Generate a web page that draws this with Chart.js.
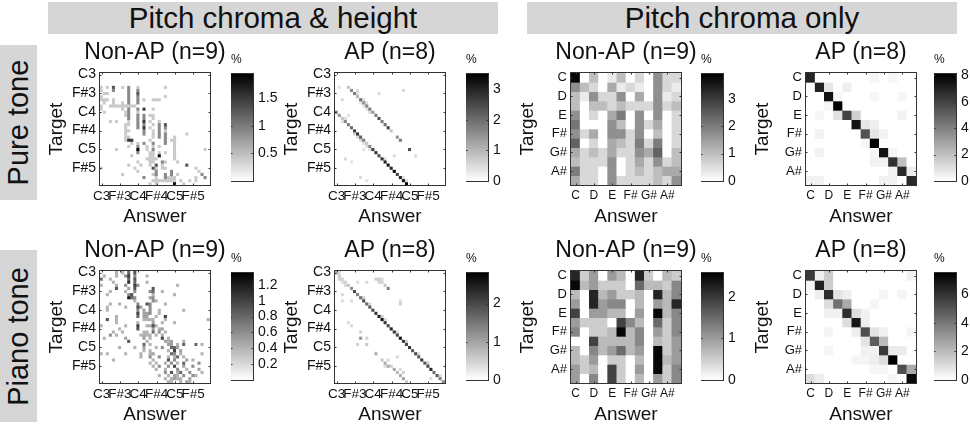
<!DOCTYPE html>
<html>
<head>
<meta charset="utf-8">
<script src="https://cdn.jsdelivr.net/npm/chart.js@4.4.1/dist/chart.umd.min.js"></script>
<style>
  body { margin: 0; width: 970px; height: 425px; position: relative; background: #fff; overflow: hidden;
         font-family: "Liberation Sans", Arial, sans-serif; color: #111; }
  .box { position: absolute; background: #d6d6d6; display: flex; align-items: center; justify-content: center; white-space: nowrap; }
  .vbox span { transform: rotate(-90deg); display: block; }
  canvas { position: absolute; }
</style>
</head>
<body>
<div class="box" style="left:48px;top:2px;width:450px;height:32px;font-size:29.5px">Pitch chroma &amp; height</div>
<div class="box" style="left:527px;top:2px;width:430px;height:32px;font-size:29.5px">Pitch chroma only</div>
<div class="box vbox" style="left:0;top:45px;width:37px;height:155px;font-size:29px"><span>Pure tone</span></div>
<div class="box vbox" style="left:0;top:250px;width:37px;height:172px;font-size:29px"><span>Piano tone</span></div>

<script>
const FONT = '"Liberation Sans", Arial, sans-serif';
Chart.defaults.font.family = FONT;
Chart.defaults.color = '#111';

// note names and tick labels
const heightNotes = ['C3','C#3','D3','D#3','E3','F3','F#3','G3','G#3','A3','A#3','B3',
                     'C4','C#4','D4','D#4','E4','F4','F#4','G4','G#4','A4','A#4','B4',
                     'C5','C#5','D5','D#5','E5','F5','F#5','G5','G#5','A5','A#5','B5'];
const heightTicks = ['C3','F#3','C4','F#4','C5','F#5'];
const chromaNotes = ['C','C#','D','D#','E','F','F#','G','G#','A','A#','B'];
const chromaTicks = ['C','D','E','F#','G#','A#'];

// pitch chroma & height, [target, answer, %]
const pureHeightNonAP = [
  [4,0,.4],[4,2,.4],[4,4,1.3],[4,7,.4],[4,9,.9],[4,12,.4],[4,21,.4],
  [5,0,.4],[5,4,.9],[5,9,.9],[5,12,.9],
  [6,1,.4],[6,2,.4],[6,9,.9],[6,12,1.3],
  [7,0,.4],[7,9,.9],[7,12,.9],[7,21,.4],
  [8,0,.4],[8,1,.4],[8,2,.4],[8,4,.4],[8,9,.9],[8,12,.9],[8,14,.4],[8,17,.4],[8,18,.4],[8,19,.4],
  [9,1,.4],[9,4,.4],[9,7,.4],[9,9,.9],[9,12,.9],
  [10,0,.4],[10,3,.4],[10,4,.4],[10,5,.4],[10,6,.4],[10,7,.4],[10,8,.4],[10,9,.4],[10,10,.4],[10,11,.4],
  [11,0,.4],[11,7,.4],[11,9,.9],[11,12,.9],[11,14,1.5],[11,17,.4],
  [12,1,.4],[12,8,.4],[12,9,.9],[12,12,.4],
  [13,8,.4],[13,9,.9],[13,12,.9],[13,14,.9],[13,16,.4],[13,17,.4],
  [14,9,.9],[14,12,.9],[14,14,.9],[14,17,.4],
  [15,3,.4],[15,5,.4],[15,9,.4],[15,12,.9],[15,14,1.5],[15,16,.4],[15,19,.4],
  [16,8,.4],[16,9,.4],[16,12,.9],[16,14,.9],[16,17,.4],[16,19,.9],[16,21,1.3],
  [17,8,.4],[17,12,.9],[17,14,1.5],[17,16,.4],[17,19,.9],[17,21,.9],
  [18,8,.4],[18,9,.4],[18,14,.9],[18,17,.4],[18,19,.9],[18,21,.4],
  [19,8,.4],[19,14,.9],[19,17,.4],[19,19,.9],[19,21,.9],[19,28,.4],
  [20,8,.4],[20,9,.4],[20,17,.4],[20,19,.9],[20,21,.9],[20,24,.4],
  [21,8,.4],[21,9,1.5],[21,10,1.5],[21,16,.4],[21,21,.9],[21,23,.4],[21,24,.4],
  [22,10,.4],[22,12,.4],[22,14,.9],[22,17,.9],[22,21,.9],[22,24,.4],
  [23,9,.4],[23,12,.9],[23,15,.4],[23,17,.4],[23,19,.4],[23,24,.4],
  [24,5,.4],[24,12,1.9],[24,15,.4],[24,17,.9],[24,24,.4],[24,34,.4],
  [25,12,.9],[25,16,.4],[25,17,.4],[25,19,.4],[25,21,.4],[25,24,.4],
  [26,10,.4],[26,16,.4],[26,17,.4],[26,19,1.9],[26,24,.4],
  [27,15,.4],[27,16,.4],[27,17,.4],[27,18,.4],[27,24,.4],
  [28,12,.4],[28,16,.4],[28,17,.4],[28,20,.9],[28,21,.4],[28,25,.4],
  [29,9,.4],[29,13,.4],[29,16,.4],[29,18,1.3],[29,20,.4],[29,28,1.3],
  [30,0,.4],[30,11,.4],[30,17,1.3],[30,18,.4],[30,20,.4],[30,21,.4],[30,31,.4],
  [31,12,.4],[31,18,.9],[31,23,.9],[31,32,.4],
  [32,7,.4],[32,17,.4],[32,18,.9],[32,21,.9],[32,23,.9],[32,25,.4],[32,33,.9],
  [33,14,.9],[33,18,.4],[33,21,.9],[33,22,.4],[33,23,.4],[33,24,.4],[33,31,.4],[33,34,.9],
  [34,17,.4],[34,18,.4],[34,19,.4],[34,20,.4],[34,21,.4],[34,22,.4],[34,23,.4],[34,24,.4],[34,26,.4],[34,29,.4],[34,31,.4],
  [35,16,.4],[35,18,.4],[35,24,1.9],[35,27,.4]
];

const pureHeightAP = [
  [4,4,.8],[5,5,1.6],[6,6,1.8],[7,7,1.0],[8,8,2.0],[9,9,1.5],[10,10,1.6],[11,11,1.8],[12,12,1.4],
  [13,13,1.8],[14,14,2.4],[15,15,1.8],[16,16,2.0],[17,17,2.6],[18,18,.8],[20,20,1.5],[21,21,1.8],[24,24,2.4],
  [12,0,1.8],[13,1,1.5],[14,2,.8],[15,3,1.6],[16,4,1.8],[17,5,2.0],[18,6,2.6],[19,7,2.8],[20,8,2.2],
  [21,9,1.8],[22,10,.8],[23,11,1.6],[24,12,2.6],[25,13,2.8],[26,14,2.4],[27,15,2.8],[28,16,3.0],
  [29,17,3.2],[30,18,3.0],[31,19,3.4],[32,20,2.6],[33,21,3.0],[34,22,3.2],[35,23,3.5],
  [5,7,.5],[6,7,.4],[8,9,.5],[9,10,.5],[10,9,.4],[11,10,.4],[9,8,.4],[12,11,.5],
  [14,3,.5],[15,2,.4],[19,6,.5],[20,7,.5],[21,8,.6],[22,9,.4],[23,10,.5],[24,11,.4],[27,16,.5],[33,22,.4],[34,23,.5],
  [4,1,.4],[8,2,.5],[6,14,.5],[5,22,.5],[13,4,.4],[27,3,.5],[28,5,.4],[33,8,.5],[34,10,.4],[26,19,.5],[26,26,.5],[24,9,.4]
];

const pianoHeightNonAP = [
  [0,5,.4],[0,7,.4],[0,9,.8],[0,11,.9],
  [1,1,.4],[1,5,.4],[1,8,.6],[1,9,1.0],[1,11,.6],[1,15,.4],
  [2,0,.8],[2,3,.4],[2,9,.8],[2,11,.9],
  [3,4,.4],[3,9,1.1],[3,11,.8],[3,15,.4],
  [4,0,.4],[4,5,.4],[4,8,.6],[4,11,1.0],[4,12,.6],[4,25,.4],
  [5,5,.9],[5,9,.5],[5,11,.9],[5,17,.9],
  [6,3,.4],[6,8,.4],[6,11,.6],[6,16,.6],[6,17,.8],[6,20,.4],
  [7,2,.4],[7,9,.6],[7,10,.9],[7,17,.4],[7,24,.4],
  [8,9,1.2],[8,10,.8],[8,11,.6],[8,16,.5],[8,17,.6],
  [9,11,.4],[9,17,.6],[9,18,.4],
  [10,3,.4],[10,6,.4],[10,12,.6],[10,15,.9],[10,16,.6],[10,21,.4],
  [11,2,.4],[11,8,.4],[11,12,.9],[11,13,.5],[11,16,.6],
  [12,2,.4],[12,12,.6],[12,14,.5],[12,16,.6],[12,19,.4],[12,27,.4],
  [13,12,1.0],[13,14,.5],[13,15,.5],[13,16,.6],[13,19,.4],
  [14,5,.4],[14,12,.8],[14,14,.5],[14,15,.5],[14,18,.4],[14,21,1.0],
  [15,2,.9],[15,5,.4],[15,14,.4],[15,15,.4],[15,16,.4],[15,17,.4],[15,21,.4],[15,35,.4],
  [16,5,.4],[16,12,.4],[16,17,.5],[16,20,.4],[16,24,.4],
  [17,0,.4],[17,8,.4],[17,12,1.0],[17,15,.4],[17,16,.4],[17,17,.9],[17,18,.4],
  [18,6,.4],[18,12,.9],[18,17,.5],[18,19,.4],[18,20,.5],
  [19,4,.4],[19,7,.4],[19,14,.4],[19,15,.4],[19,17,.8],[19,19,.6],[19,21,.4],
  [20,3,.6],[20,5,.4],[20,13,.4],[20,14,.4],[20,15,.4],[20,16,.4],[20,18,.4],[20,20,.4],
  [21,1,.4],[21,8,.5],[21,14,.5],[21,16,.4],[21,20,1.0],[21,22,.4],
  [22,9,.9],[22,15,.4],[22,21,.5],[22,22,.4],[22,23,.5],[22,27,.4],
  [23,14,.8],[23,16,.4],[23,22,.5],[23,23,.5],[23,25,.4],[23,27,.8],[23,31,.8],[23,33,.4],
  [24,6,.4],[24,11,.4],[24,14,.5],[24,18,.4],[24,20,.6],[24,23,.8],[24,24,.8],[24,25,.5],
  [25,14,.4],[25,16,.4],[25,22,.4],[25,24,1.0],[25,26,.5],
  [26,0,.4],[26,2,.4],[26,8,.4],[26,13,.4],[26,16,.4],[26,17,.5],[26,23,.8],[26,24,.6],[26,26,.4],[26,33,.4],
  [27,13,.4],[27,16,.6],[27,19,.6],[27,22,.4],[27,24,.4],[27,25,.8],[27,27,.4],
  [28,4,.4],[28,17,.4],[28,22,.9],[28,24,.6],[28,28,.5],[28,30,.4],
  [29,16,.4],[29,18,.4],[29,21,.4],[29,23,.6],[29,25,.4],[29,27,.8],[29,32,.6],
  [30,17,.4],[30,19,.6],[30,22,.6],[30,24,1.0],[30,27,.5],[30,30,.6],
  [31,18,.4],[31,21,.4],[31,25,.6],[31,28,.4],[31,32,.5],
  [32,21,.6],[32,23,.9],[32,25,.4],[32,26,.8],[32,29,.6],[32,33,.4],
  [33,19,.4],[33,22,.4],[33,24,.5],[33,25,.4],[33,27,.6],[33,30,.6],[33,31,.4],
  [34,21,.4],[34,23,.4],[34,24,.5],[34,25,.4],[34,26,.4],[34,29,.5],
  [35,22,.4],[35,23,.4],[35,26,.4],[35,28,.5],[35,29,.4]
];

const pianoHeightAP = [
  [0,0,.8],[1,1,.6],[2,2,.5],[3,3,.5],[4,4,.6],[5,5,1.2],[6,6,2.0],[7,7,1.4],[8,8,1.6],[9,9,2.0],
  [10,10,1.6],[11,11,1.8],[12,12,2.0],[13,13,2.2],[14,14,2.4],[15,15,2.6],[16,16,2.2],[17,17,2.0],
  [18,18,2.4],[19,19,2.2],[20,20,2.0],[21,21,2.6],[22,22,2.2],[23,23,2.0],[24,24,2.2],[25,25,1.8],
  [26,26,2.0],[27,27,1.8],[28,28,2.2],[29,29,1.8],[30,30,2.0],[31,31,2.4],[32,32,1.6],[33,33,1.8],
  [34,34,1.4],[35,35,1.2],
  [0,1,.4],[2,1,.5],[3,2,.4],[4,3,.4],[7,2,.4],[9,2,.4],[9,5,.4],[3,7,.4],[3,10,.4],
  [2,13,.5],[2,14,.5],[2,15,.4],[3,14,.5],[3,15,.5],[4,16,.6],[5,17,1.4],[9,21,.4],[10,21,.5],
  [8,9,.5],[10,11,.4],[14,15,.5],[15,16,.4],[19,20,.4],[22,23,.5],[26,27,.4],[29,30,.5],[33,34,.4],
  [16,4,.4],[17,5,.4],[19,8,.5],[21,8,1.2],[21,10,.5],[23,7,.5],[23,10,.6],[26,13,.9],[28,15,.6],
  [29,16,.9],[30,17,.9],[31,19,1.0],[32,20,.8],[33,21,.9],[34,22,1.0],[35,23,.6],[27,20,.4],[34,31,.4],
  [30,16,.4],[30,18,.5],[28,17,.4],[31,21,.4],[32,22,.5]
];

// pitch chroma only, rows = target C..B, columns = answer C..B (%)
const pureChromaNonAP = [
  [3.8,0,1.0,0,0.3,1.0,0,0.6,0,1.7,0.6,0.6],
  [1.7,1.0,0.6,0,1.3,0.3,0.6,0.3,0,1.7,0.6,0.3],
  [1.0,0.3,1.7,0.6,0.6,1.7,0,1.3,0,1.7,0.3,0.6],
  [1.0,0,1.0,1.0,0.6,1.0,0.6,0.6,0.6,1.7,0.6,1.0],
  [1.7,0,0.6,0,1.3,2.0,0,1.7,0,1.7,0,0.6],
  [2.1,0,0,0,1.7,1.0,0,1.7,0.6,1.3,0,0.6],
  [1.7,0.6,1.3,0,1.7,1.7,0.6,1.7,0,1.0,0,0.6],
  [2.4,0,0.6,0,1.3,1.0,0.6,2.0,0.6,2.0,0,0.6],
  [1.3,0.6,1.0,0.6,1.3,0.6,0.6,1.7,1.3,2.4,0,1.0],
  [1.0,0.6,0.6,0.6,1.7,0,0.6,1.3,0.6,1.7,0.6,1.0],
  [2.0,0.6,0.6,0,1.7,0,0.6,1.0,0.6,1.0,1.3,1.3],
  [1.3,0.6,0.6,0,1.7,0.6,0.6,0.6,0.6,1.0,0.6,1.7]
];
const pureChromaAP = [
  [7.0,0,0,0,0,0,0,0.3,0,0.3,0,0],
  [0,7.0,0.8,0,0.5,0,0,0,0,0,0,0],
  [0,0,7.5,0.3,0,0,0,0.3,0,0,0.3,0],
  [0,0,0.3,8.1,0,0,0,0,0,0,0,0],
  [0,0.3,0,1.0,6.0,1.5,0,0,0,0,0.4,0],
  [0,0,0,0,0,7.5,0.8,0.5,0,0,0,0],
  [0,0.4,0,0,0,0,5.5,0.8,0.4,0,0,0],
  [0,0,0,0,0,0,0.3,8.0,0,0,0,0],
  [0,0.4,0,0,0,0,0,0.3,7.5,0.3,0,0],
  [0,0,0,0,0,0,0,0.4,0.4,6.5,2.0,0],
  [0,0,0,0,0,0,0,0,0,0.4,6.8,0.6],
  [0.4,0.4,0,0,0,0,0,0,0.4,0.4,0,6.8]
];
const pianoChromaNonAP = [
  [2.2,0.5,1.0,0,1.0,0.7,0,2.2,0.5,0,0.7,0.5],
  [2.5,0.7,1.0,0.5,0.5,0.5,0,1.5,0.7,0.7,0.5,1.2],
  [0.7,0,2.2,0.7,1.0,0.5,0.5,0.7,0,2.2,0.7,1.2],
  [1.0,0,2.2,1.0,1.2,1.2,0,0.7,0,1.0,0.7,2.2],
  [1.9,0,1.0,1.0,0.7,0.7,0,1.0,0,2.5,0.7,1.2],
  [1.0,0.5,0.5,0.5,0,1.9,1.2,0.7,0,1.5,0.5,1.2],
  [1.2,0,0.5,0.5,0.7,2.5,0.7,1.2,0,1.0,0.5,1.2],
  [0,0,1.9,0.7,0.7,0.7,0.7,1.2,0,0.7,0.5,1.0],
  [0.7,0,1.2,0.7,1.0,1.5,0.7,1.0,0,2.5,0.5,1.0],
  [0.7,0.5,1.0,0,0.5,0.5,0,0.7,0,2.5,0.7,1.0],
  [1.0,0.5,0.7,0,1.9,0.5,0,1.0,0,2.5,0.5,1.2],
  [1.0,0,1.2,0,1.9,0.5,0,0.7,0,1.0,0.5,1.2]
];
const pianoChromaAP = [
  [5.8,0.5,1.5,0,0,0,0,0,0,0,0,0.4],
  [0.3,6.5,1.5,0,0,0,0,0,0,0,0,0],
  [0,0.5,6.2,0.8,0.5,0,0,0,0.3,0,0.3,0],
  [0,0,1.0,4.2,2.5,0,0,0.3,0,0,0,0],
  [0,0,0.4,0.4,6.2,1.0,0.4,0,0,0,0,0],
  [0,0,0,0,1.0,6.8,0.5,0,0,0,0,0],
  [0,0,0.3,0,0,0.5,5.2,0.8,0.4,0,0,0.3],
  [0,0,0,0,0,0,0.8,4.8,2.0,0,0,0],
  [0,0,0.3,0,0,0,0.4,0.4,5.8,0.6,0.6,0],
  [0,0,0,0,0,0.3,0.3,0.5,1.0,7.5,0,0],
  [0,0,0,0,0,0,0,0.3,0.3,0,5.2,2.5],
  [1.0,0.5,0,0,0,0,0,0,0,0.3,0,7.2]
];

// colour scale limits and colorbar ticks
const limits = { pureHeightNonAP: 1.94, pureHeightAP: 3.5, pureChromaNonAP: 3.9, pureChromaAP: 8.1,
                 pianoHeightNonAP: 1.35, pianoHeightAP: 2.8, pianoChromaNonAP: 2.57, pianoChromaAP: 7.5 };
const cbTicks = { pureHeightNonAP: [0.5, 1, 1.5], pureHeightAP: [0, 1, 2, 3], pureChromaNonAP: [0, 1, 2, 3],
                  pureChromaAP: [0, 2, 4, 6, 8], pianoHeightNonAP: [0.2, 0.4, 0.6, 0.8, 1, 1.2],
                  pianoHeightAP: [0, 1, 2], pianoChromaNonAP: [0, 1, 2], pianoChromaAP: [0, 2, 4, 6] };

function fromCells(n, cells) {
  const m = Array.from({ length: n }, () => Array(n).fill(0));
  cells.forEach(([t, a, v]) => { m[t][a] = v; });
  return m;
}

function shade(v, max) {
  const g = Math.round(255 * (1 - Math.min(v / max, 1)));
  return `rgb(${g},${g},${g})`;
}

// axes box with small inward ticks, matlab style
const frame = {
  id: 'frame',
  afterDraw(chart) {
    const { ctx, chartArea: a, scales } = chart;
    const len = 2;
    const L = Math.round(a.left) - 0.5, T = Math.round(a.top) - 0.5;
    const R = Math.round(a.right) + 0.5, B = Math.round(a.bottom) + 0.5;
    ctx.save();
    ctx.strokeStyle = '#333';
    ctx.lineWidth = 1;
    ctx.strokeRect(L, T, R - L, B - T);
    ctx.beginPath();
    Object.values(scales).forEach(s => {
      if (s.options.display === false || s.options.ticks.display === false) return;
      s.ticks.forEach((t, i) => {
        const p = Math.round(s.getPixelForTick(i)) + 0.5;
        if (s.isHorizontal()) {
          ctx.moveTo(p, B); ctx.lineTo(p, B - len);
          ctx.moveTo(p, T); ctx.lineTo(p, T + len);
        } else {
          ctx.moveTo(L, p); ctx.lineTo(L + len, p);
          ctx.moveTo(R, p); ctx.lineTo(R - len, p);
        }
      });
    });
    ctx.stroke();
    ctx.restore();
  }
};

function makeCanvas(left, top, w, h) {
  const c = document.createElement('canvas');
  c.width = w; c.height = h;
  c.style.left = left + 'px'; c.style.top = top + 'px';
  c.style.width = w + 'px'; c.style.height = h + 'px';
  document.body.appendChild(c);
  return c;
}

// an empty right axis as wide as the left one keeps the title centred on the plot
function heatmap(left, top, title, matrix, max, names, ticks, xSize, ySize) {
  const n = names.length;
  const tickIdx = ticks.map(t => names.indexOf(t));
  const c = makeCanvas(left - 70, top - 35, 250, 191);
  new Chart(c, {
    type: 'bar',
    data: {
      labels: names,
      datasets: matrix.map(row => ({
        data: row.map(() => 1),
        backgroundColor: row.map(v => shade(v, max)),
        borderWidth: 0,
        barPercentage: 1,
        categoryPercentage: 1
      }))
    },
    options: {
      responsive: false,
      animation: false,
      events: [],
      plugins: {
        legend: { display: false },
        tooltip: { enabled: false },
        title: { display: true, text: title, color: '#111',
                 font: { size: 23, weight: 'normal', lineHeight: 1 }, padding: { top: 3, bottom: 9 } }
      },
      scales: {
        x: {
          stacked: true,
          grid: { display: false, drawTicks: false },
          border: { display: false },
          afterBuildTicks: ax => { ax.ticks = ax.ticks.filter(t => tickIdx.includes(t.value)); },
          ticks: { autoSkip: false, maxRotation: 0, padding: 5, color: '#111',
                   font: { size: xSize, lineHeight: 1 }, callback: v => names[v] },
          title: { display: true, text: 'Answer', color: '#111', font: { size: 19, lineHeight: 1 },
                   padding: { top: 0, bottom: 3 } },
          afterFit: s => { s.height = 44; }
        },
        y: {
          stacked: true,
          reverse: true,
          min: 0,
          max: n,
          grid: { display: false, drawTicks: false },
          border: { display: false },
          afterBuildTicks: ax => { ax.ticks = tickIdx.map(i => ({ value: i + 0.5 })); },
          ticks: { padding: 4, color: '#111', font: { size: ySize, lineHeight: 1 },
                   callback: v => names[Math.round(v - 0.5)] },
          title: { display: true, text: 'Target', color: '#111', font: { size: 19, lineHeight: 1 },
                   padding: { top: 17, bottom: 0 } },
          afterFit: s => { s.width = 70; }
        },
        spare: {
          type: 'linear',
          position: 'right',
          grid: { display: false, drawTicks: false },
          border: { display: false },
          ticks: { display: false },
          afterFit: s => { s.width = 70; }
        }
      }
    },
    plugins: [frame]
  });
}

function colorbar(left, top, max, ticks) {
  const c = makeCanvas(left, top - 20, 58, 139);
  new Chart(c, {
    type: 'bar',
    data: {
      labels: [''],
      datasets: [{
        data: [max],
        backgroundColor: ctx => {
          const a = ctx.chart.chartArea;
          if (!a) return '#888';
          const g = ctx.chart.ctx.createLinearGradient(0, a.bottom, 0, a.top);
          g.addColorStop(0, '#ffffff');
          g.addColorStop(1, '#000000');
          return g;
        },
        borderWidth: 0,
        barPercentage: 1,
        categoryPercentage: 1
      }]
    },
    options: {
      responsive: false,
      animation: false,
      events: [],
      layout: { padding: { bottom: 8 } },
      plugins: {
        legend: { display: false },
        tooltip: { enabled: false },
        title: { display: true, text: '%', align: 'start', color: '#111',
                 font: { size: 12, weight: 'normal', lineHeight: 1 }, padding: { top: 0, bottom: 8 } }
      },
      scales: {
        x: { display: false },
        y: {
          position: 'right',
          min: 0,
          max: max,
          grid: { display: false, drawTicks: false },
          border: { display: false },
          afterBuildTicks: ax => { ax.ticks = ticks.map(v => ({ value: v })); },
          ticks: { padding: 5, color: '#111', font: { size: 14, lineHeight: 1 }, callback: v => String(v) },
          afterFit: s => { s.width = 36; }
        }
      }
    },
    plugins: [frame]
  });
}

// top row: pure tone
heatmap(100, 73, 'Non-AP (n=9)', fromCells(36, pureHeightNonAP), limits.pureHeightNonAP, heightNotes, heightTicks, 13.5, 14);
heatmap(335, 73, 'AP (n=8)', fromCells(36, pureHeightAP), limits.pureHeightAP, heightNotes, heightTicks, 13.5, 14);
heatmap(571, 73, 'Non-AP (n=9)', pureChromaNonAP, limits.pureChromaNonAP, chromaNotes, chromaTicks, 12, 13);
heatmap(806, 73, 'AP (n=8)', pureChromaAP, limits.pureChromaAP, chromaNotes, chromaTicks, 12, 13);
colorbar(231, 74, limits.pureHeightNonAP, cbTicks.pureHeightNonAP);
colorbar(466, 74, limits.pureHeightAP, cbTicks.pureHeightAP);
colorbar(701, 74, limits.pureChromaNonAP, cbTicks.pureChromaNonAP);
colorbar(934, 74, limits.pureChromaAP, cbTicks.pureChromaAP);

// bottom row: piano tone
heatmap(100, 271, 'Non-AP (n=9)', fromCells(36, pianoHeightNonAP), limits.pianoHeightNonAP, heightNotes, heightTicks, 13.5, 14);
heatmap(335, 271, 'AP (n=8)', fromCells(36, pianoHeightAP), limits.pianoHeightAP, heightNotes, heightTicks, 13.5, 14);
heatmap(571, 271, 'Non-AP (n=9)', pianoChromaNonAP, limits.pianoChromaNonAP, chromaNotes, chromaTicks, 12, 13);
heatmap(806, 271, 'AP (n=8)', pianoChromaAP, limits.pianoChromaAP, chromaNotes, chromaTicks, 12, 13);
colorbar(231, 273, limits.pianoHeightNonAP, cbTicks.pianoHeightNonAP);
colorbar(466, 273, limits.pianoHeightAP, cbTicks.pianoHeightAP);
colorbar(701, 273, limits.pianoChromaNonAP, cbTicks.pianoChromaNonAP);
colorbar(934, 273, limits.pianoChromaAP, cbTicks.pianoChromaAP);
</script>
</body>
</html>
